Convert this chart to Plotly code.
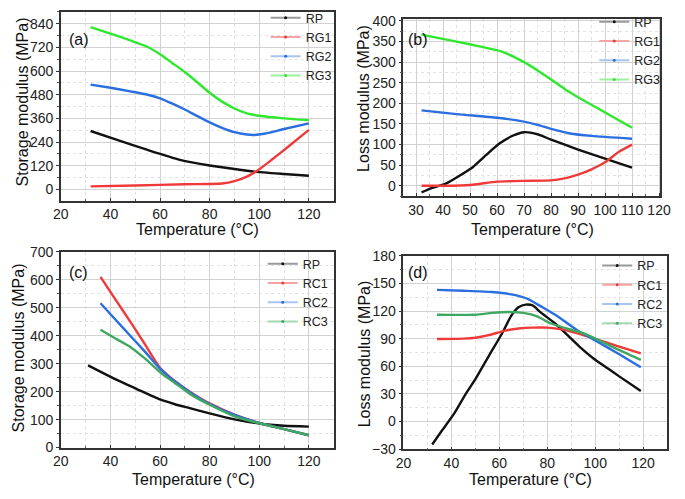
import plotly.graph_objects as go

# ---------------- data ----------------
# (a) storage modulus, RG series
a_RP_T = [32, 43, 55, 68, 80, 90, 98, 110, 120]
a_RP_v = [296, 250, 200, 150, 121, 103, 90, 78, 69]
a_RG1_T = [32, 50, 70, 85, 90, 95, 99, 105, 112, 120]
a_RG1_v = [15, 20, 26, 30, 42, 65, 93, 150, 220, 302]
a_RG2_T = [32, 40, 48, 55, 60, 65, 70, 75, 80, 85, 90, 95, 98, 102, 110, 120]
a_RG2_v = [531, 515, 497, 480, 462, 435, 405, 372, 340, 312, 290, 278, 276, 282, 306, 335]
a_RG3_T = [32, 40, 48, 55, 60, 65, 70, 75, 80, 85, 90, 95, 100, 110, 120]
a_RG3_v = [823, 790, 755, 722, 685, 640, 595, 543, 490, 445, 410, 385, 373, 360, 351]

# (b) loss modulus, RG series
b_RP_T = [32, 36, 41, 47, 51, 56, 61, 66, 70, 75, 80, 90, 100, 110]
b_RP_v = [-16, -5, 5, 28, 45, 75, 103, 122, 130, 125, 112, 88, 66, 44]
b_RG1_T = [32, 40, 50, 60, 70, 80, 85, 90, 95, 100, 105, 110]
b_RG1_v = [0, 0, 2, 10, 12, 13, 18, 27, 40, 57, 82, 100]
b_RG2_T = [32, 45, 60, 68, 75, 80, 87, 95, 110]
b_RG2_v = [183, 174, 165, 158, 148, 138, 127, 121, 114]
b_RG3_T = [32, 45, 53, 62, 70, 75, 80, 85, 90, 100, 110]
b_RG3_v = [367, 350, 339, 325, 300, 280, 258, 235, 215, 178, 141]

# (c) storage modulus, RC series
c_RP_T = [31, 43, 50, 60, 66, 72, 80, 90, 100, 110, 120]
c_RP_v = [294, 240, 212, 172, 155, 141, 122, 101, 86, 78, 75]
c_RC1_T = [36, 42, 48, 54, 60, 64, 68, 72, 80, 90, 100, 110, 120]
c_RC1_v = [610, 530, 450, 368, 285, 252, 225, 200, 158, 118, 88, 66, 44]
c_RC2_T = [36, 42, 48, 54, 60, 64, 68, 72, 80, 90, 100, 110, 120]
c_RC2_v = [516, 458, 400, 342, 282, 250, 224, 198, 156, 117, 88, 66, 44]
c_RC3_T = [36, 42, 48, 54, 60, 64, 68, 72, 80, 90, 100, 110, 120]
c_RC3_v = [421, 390, 360, 318, 270, 243, 218, 192, 153, 112, 87, 66, 44]

# (d) loss modulus, RC series
d_RP_T = [32, 36, 41, 46, 50, 56, 61, 65, 68, 71, 74, 77, 83, 88, 94, 99, 105, 110, 119]
d_RP_v = [-25, -10, 8, 30, 46, 73, 95, 115, 124, 127, 126, 119, 107, 95, 80, 69, 58, 49, 33]
d_RC1_T = [34, 45, 50, 56, 62, 68, 74, 80, 86, 96, 108, 119]
d_RC1_v = [89.6, 90, 91, 94, 98.5, 101, 102, 102, 100, 93, 83, 74]
d_RC2_T = [34, 45, 57, 65, 72, 78, 85, 92, 100, 110, 119]
d_RC2_v = [143, 142, 140.6, 138, 133, 124, 113, 100, 88, 73, 59]
d_RC3_T = [34, 50, 57, 64, 70, 76, 81, 88, 96, 108, 119]
d_RC3_v = [116, 116, 118, 119, 118, 114, 107, 101, 95, 80, 67]

panel_labels = ["(a)", "(b)", "(c)", "(d)"]
x_title = "Temperature (°C)"
y_titles = ["Storage modulus (MPa)", "Loss modulus (MPa)",
            "Storage modulus (MPa)", "Loss modulus (MPa)"]

# ---------------- styling ----------------
FONT = "Liberation Sans, Arial, sans-serif"
BLACK, RED, BLUE = "#111111", "#f03a3a", "#2a6ee0"
GREEN_AB, GREEN_CD = "#2ee82e", "#3ea860"
PALE = {BLACK: "#9a9a9a", RED: "#f5a5a5", BLUE: "#a8c4f0",
        GREEN_AB: "#9cf09c", GREEN_CD: "#a6d8b4"}

fig = go.Figure()

panels = [
    ("x", "y", "legend", [("RP", a_RP_T, a_RP_v, BLACK), ("RG1", a_RG1_T, a_RG1_v, RED),
                          ("RG2", a_RG2_T, a_RG2_v, BLUE), ("RG3", a_RG3_T, a_RG3_v, GREEN_AB)]),
    ("x2", "y2", "legend2", [("RP", b_RP_T, b_RP_v, BLACK), ("RG1", b_RG1_T, b_RG1_v, RED),
                             ("RG2", b_RG2_T, b_RG2_v, BLUE), ("RG3", b_RG3_T, b_RG3_v, GREEN_AB)]),
    ("x3", "y3", "legend3", [("RP", c_RP_T, c_RP_v, BLACK), ("RC1", c_RC1_T, c_RC1_v, RED),
                             ("RC2", c_RC2_T, c_RC2_v, BLUE), ("RC3", c_RC3_T, c_RC3_v, GREEN_CD)]),
    ("x4", "y4", "legend4", [("RP", d_RP_T, d_RP_v, BLACK), ("RC1", d_RC1_T, d_RC1_v, RED),
                             ("RC2", d_RC2_T, d_RC2_v, BLUE), ("RC3", d_RC3_T, d_RC3_v, GREEN_CD)]),
]

for xa, ya, lg, series in panels:
    for name, T, v, col in series:
        fig.add_trace(go.Scatter(
            x=T, y=v, mode="lines", name=name, xaxis=xa, yaxis=ya,
            line=dict(color=col, width=2.4, shape="spline", smoothing=0.6),
            showlegend=False, hoverinfo="x+y+name"))
    for name, T, v, col in series:
        # legend-only entry (pale line with small marker, as in the original)
        fig.add_trace(go.Scatter(
            x=[None], y=[None], mode="lines+markers", name=name, xaxis=xa, yaxis=ya,
            line=dict(color=PALE[col], width=2), marker=dict(color=col, size=3),
            legend=lg, showlegend=True))


def axis(domain, rng, dtick, minor, anchor, ticks, tick0=0):
    return dict(
        domain=domain, range=rng, dtick=dtick, tick0=tick0, anchor=anchor,
        showline=True, linecolor="#333333", linewidth=1.5, mirror=True,
        ticks=ticks, ticklen=3, tickcolor="#333333", tickwidth=1,
        showgrid=True, gridcolor="#d2d2d2", gridwidth=1, zeroline=False,
        minor=dict(dtick=minor, tick0=tick0, showgrid=True, gridcolor="#e2e2e2",
                   griddash="dot", ticks=ticks, ticklen=2, tickcolor="#555555"),
        tickfont=dict(size=14, color="#222222", family=FONT),
    )


W, H = 685, 499
def xd(l, r):
    return [l / W, r / W]
def yd(t, b):
    return [1 - b / H, 1 - t / H]

fig.update_layout(
    width=W, height=H,
    margin=dict(l=0, r=0, t=0, b=0),
    paper_bgcolor="white", plot_bgcolor="white",
    font=dict(family=FONT, color="#111111"),
    xaxis=axis(xd(54.3, 335), [20, 130], 20, 10, "y", "inside"),
    yaxis=axis(yd(4, 199), [-57, 900], 120, 60, "x", "outside"),
    xaxis2=axis(xd(406.7, 671), [25.3, 120.5], 10, 5, "y2", "inside"),
    yaxis2=axis(yd(11.7, 194.3), [-25, 404], 50, 25, "x2", "outside"),
    xaxis3=axis(xd(54.3, 335), [20, 130], 20, 10, "y3", "inside"),
    yaxis3=axis(yd(251.7, 454.3), [-0.5, 700.5], 100, 50, "x3", "outside"),
    xaxis4=axis(xd(406.7, 678), [20, 130], 20, 10, "y4", "inside"),
    yaxis4=axis(yd(255.7, 456), [-30.3, 180.3], 30, 15, "x4", "outside"),
)

def legend_at(xpx, ypx):
    return dict(x=xpx / W, y=1 - ypx / H, xanchor="left", yanchor="top",
                bgcolor="rgba(255,255,255,0)", borderwidth=0,
                font=dict(size=12.5, color="#222222", family=FONT),
                itemwidth=30, tracegroupgap=0)

fig.update_layout(
    legend=legend_at(265, -5),
    legend2=legend_at(603, -1),
    legend3=legend_at(262, 249),
    legend4=legend_at(606, 251),
)

def ann(text, xpx, ypx, size, angle=0, xanchor="center"):
    fig.add_annotation(
        text=text, xref="paper", yref="paper", x=xpx / W, y=1 - ypx / H,
        xanchor=xanchor, yanchor="middle", showarrow=False, textangle=angle,
        font=dict(size=size, color="#111111", family=FONT))

# panel labels
for txt, (px, py) in zip(panel_labels, [(61, 33), (409, 33), (61, 273), (409, 273)]):
    ann(txt, px, py, 16, xanchor="left")
# x axis titles
for px, py in [(195, 229), (539, 229), (191, 487), (537, 487)]:
    ann(x_title, px, py, 16)
# y axis titles
for txt, (px, py) in zip(y_titles, [(15, 97), (365, 93), (11, 351), (367, 357)]):
    ann(txt, px, py, 16, angle=-90)

fig.write_html("out.html", config={"displayModeBar": False},
               post_script="document.body.style.margin='0';document.body.style.overflow='hidden';")
